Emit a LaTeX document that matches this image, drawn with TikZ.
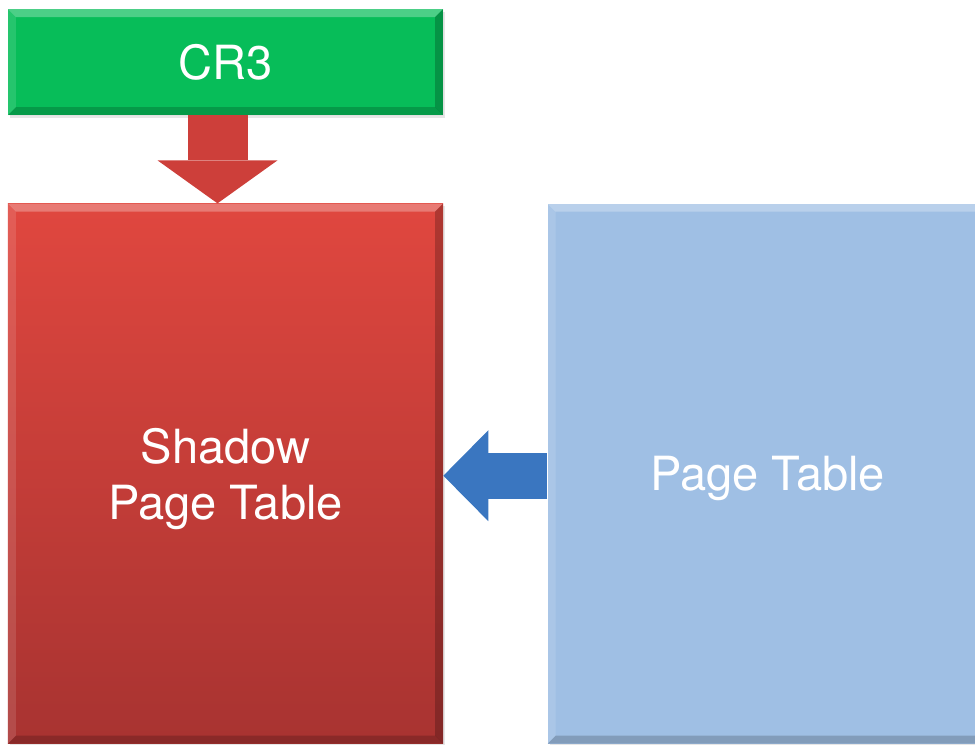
\documentclass[tikz,border=0pt]{standalone}
\usepackage{fontspec}
\setmainfont{TeX Gyre Heros}
\usetikzlibrary{arrows.meta,positioning,shadows}

\definecolor{regGreen}{HTML}{07BD59}
\definecolor{shadowTop}{HTML}{E0473F}
\definecolor{shadowBot}{HTML}{A83331}
\definecolor{tableBlue}{HTML}{9FBFE4}
\definecolor{arrowRed}{HTML}{CD3F3A}
\definecolor{arrowBlue}{HTML}{3A76C0}

\tikzset{
	block/.style={rectangle, inner sep=0pt, text=white, align=center, text depth=0pt,
		font=\fontsize{26.8}{32.2}\selectfont,
		drop shadow={opacity=.2, shadow xshift=.04cm, shadow yshift=-.05cm},
		bevel},
	% light upper/left rim, dark lower/right rim
	bevel/.style={path picture={
			\coordinate (nw) at (path picture bounding box.north west);
			\coordinate (ne) at (path picture bounding box.north east);
			\coordinate (sw) at (path picture bounding box.south west);
			\coordinate (se) at (path picture bounding box.south east);
			\fill[white, opacity=.28] (nw) -- (ne) -- ([shift={(-.16,-.16)}]ne) -- ([shift={(.16,-.16)}]nw) -- cycle;
			\fill[white, opacity=.12] (nw) -- (sw) -- ([shift={(.16,.16)}]sw) -- ([shift={(.16,-.16)}]nw) -- cycle;
			\fill[black, opacity=.22] (ne) -- (se) -- ([shift={(-.16,.16)}]se) -- ([shift={(-.16,-.16)}]ne) -- cycle;
			\fill[black, opacity=.18] (sw) -- (se) -- ([shift={(-.16,.16)}]se) -- ([shift={(.16,.16)}]sw) -- cycle;
	}},
	fat/.style={line width=#1}
}

\begin{document}
\begin{tikzpicture}
	\useasboundingbox (0,0) rectangle (19.5,-14.88);
	
	\node[block, fill=regGreen, minimum width=8.7cm, minimum height=2.12cm] (cr3) at (4.51,-1.24) {CR3};
	
	\node[block, top color=shadowTop, bottom color=shadowBot, minimum width=8.7cm, minimum height=10.8cm,
		below=1.76cm of cr3] (shadow) {Shadow\\Page Table};
	
	\node[block, fill=tableBlue, minimum width=8.8cm, minimum height=10.8cm,
		right=2.08cm of shadow] (table) {Page Table};
	
	\draw[fat=1.2cm, arrowRed, -{Triangle[width=2.4cm, length=.86cm, line width=0pt]}]
		([xshift=-.16cm]cr3.south) -- ([xshift=-.16cm]shadow.north);
	\draw[fat=.92cm, arrowBlue, -{Triangle[width=1.82cm, length=.9cm, line width=0pt]}]
		([yshift=-.04cm]table.west) -- ([yshift=-.04cm]shadow.east);
\end{tikzpicture}
\end{document}
